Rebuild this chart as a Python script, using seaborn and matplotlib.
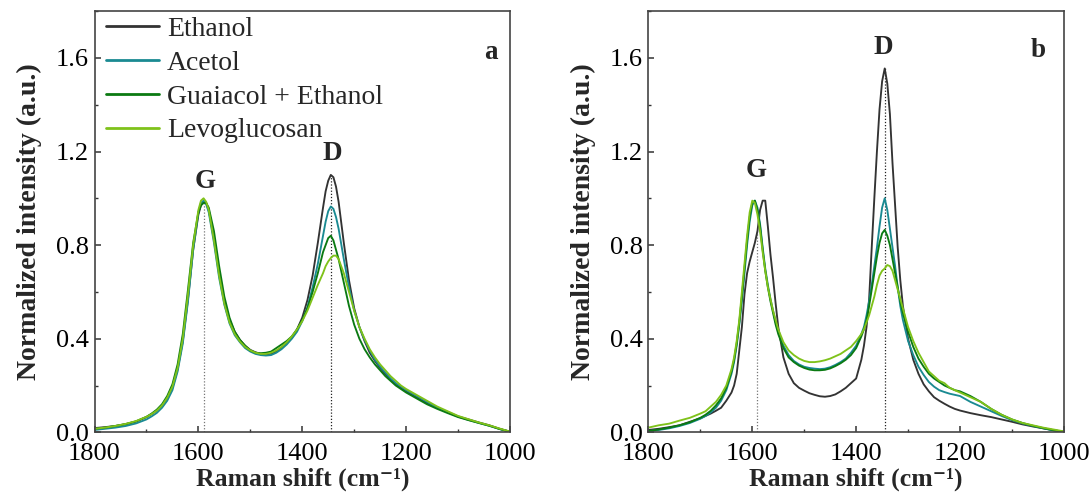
import numpy as np
import pandas as pd
import matplotlib
matplotlib.use("Agg")
import matplotlib.pyplot as plt
from matplotlib.ticker import MultipleLocator
import seaborn as sns

SERIES = ["Ethanol", "Acetol", "Guaiacol + Ethanol", "Levoglucosan"]
COLORS = ["#333333", "#1a8a92", "#0b7a12", "#7fc21a"]

# ---------------- panel a ----------------
XA = [1800, 1780, 1760, 1740, 1720, 1700, 1690, 1680, 1670, 1660, 1650, 1640, 1630, 1620,
      1610, 1600, 1595, 1590, 1585, 1580, 1570, 1560, 1550, 1540, 1530, 1520, 1510, 1500,
      1490, 1480, 1470, 1460, 1450, 1440, 1430, 1420, 1410, 1400, 1390, 1380, 1370, 1360,
      1355, 1350, 1345, 1340, 1335, 1330, 1320, 1310, 1300, 1290, 1280, 1270, 1260, 1250,
      1240, 1230, 1220, 1210, 1200, 1180, 1160, 1140, 1120, 1100, 1080, 1060, 1040, 1020, 1000]

A_ETHANOL = [0.018, 0.022, 0.027, 0.035, 0.046, 0.065, 0.078, 0.093, 0.115, 0.145, 0.19, 0.27, 0.39, 0.57,
             0.78, 0.93, 0.97, 0.985, 0.98, 0.95, 0.83, 0.68, 0.56, 0.48, 0.43, 0.395, 0.37, 0.352,
             0.342, 0.335, 0.333, 0.336, 0.345, 0.36, 0.38, 0.405, 0.44, 0.49, 0.565, 0.67, 0.81, 0.96,
             1.03, 1.075, 1.10, 1.09, 1.05, 0.985, 0.81, 0.65, 0.53, 0.45, 0.39, 0.34, 0.305, 0.275,
             0.25, 0.225, 0.205, 0.19, 0.175, 0.15, 0.125, 0.105, 0.087, 0.068, 0.055, 0.042, 0.03, 0.015, 0.003]
A_ACETOL = [0.01, 0.015, 0.02, 0.027, 0.038, 0.055, 0.068, 0.083, 0.105, 0.135, 0.18, 0.26, 0.38, 0.56,
            0.78, 0.94, 0.98, 0.99, 0.975, 0.94, 0.81, 0.66, 0.545, 0.465, 0.415, 0.385, 0.36, 0.345,
            0.335, 0.33, 0.328, 0.33, 0.34, 0.355, 0.375, 0.40, 0.43, 0.475, 0.535, 0.62, 0.72, 0.84,
            0.90, 0.945, 0.965, 0.955, 0.92, 0.87, 0.74, 0.62, 0.52, 0.45, 0.395, 0.35, 0.31, 0.28,
            0.255, 0.23, 0.21, 0.195, 0.18, 0.155, 0.13, 0.105, 0.085, 0.067, 0.053, 0.04, 0.028, 0.014, 0.002]
A_GUAIACOL = [0.015, 0.02, 0.027, 0.035, 0.047, 0.066, 0.08, 0.097, 0.12, 0.155, 0.205, 0.29, 0.42, 0.61,
              0.81, 0.94, 0.97, 0.98, 0.98, 0.96, 0.86, 0.71, 0.58, 0.49, 0.43, 0.395, 0.37, 0.35,
              0.34, 0.338, 0.34, 0.345, 0.36, 0.375, 0.39, 0.41, 0.44, 0.48, 0.53, 0.60, 0.68, 0.77,
              0.80, 0.83, 0.84, 0.82, 0.78, 0.74, 0.64, 0.54, 0.46, 0.40, 0.355, 0.32, 0.29, 0.265,
              0.24, 0.22, 0.20, 0.185, 0.17, 0.145, 0.12, 0.10, 0.082, 0.065, 0.052, 0.04, 0.028, 0.014, 0.002]
A_LEVO = [0.015, 0.02, 0.027, 0.036, 0.048, 0.066, 0.078, 0.093, 0.115, 0.148, 0.195, 0.275, 0.40, 0.59,
          0.80, 0.95, 0.99, 1.0, 0.985, 0.95, 0.82, 0.67, 0.55, 0.47, 0.42, 0.388, 0.365, 0.35,
          0.34, 0.335, 0.335, 0.34, 0.35, 0.365, 0.385, 0.41, 0.44, 0.475, 0.52, 0.575, 0.63, 0.68,
          0.71, 0.73, 0.745, 0.755, 0.755, 0.74, 0.68, 0.60, 0.52, 0.45, 0.40, 0.355, 0.32, 0.29,
          0.265, 0.24, 0.22, 0.20, 0.185, 0.16, 0.135, 0.11, 0.09, 0.07, 0.056, 0.042, 0.03, 0.016, 0.003]

# ---------------- panel b ----------------
XB = [1800, 1780, 1760, 1740, 1720, 1700, 1690, 1680, 1670, 1660, 1650, 1640, 1635, 1630, 1625, 1620,
      1615, 1610, 1605, 1600, 1595, 1590, 1585, 1580, 1575, 1570, 1565, 1560, 1555, 1550, 1540, 1530,
      1520, 1510, 1500, 1490, 1480, 1470, 1460, 1450, 1440, 1430, 1420, 1410, 1400, 1390, 1385, 1380,
      1375, 1370, 1365, 1360, 1355, 1350, 1345, 1340, 1335, 1330, 1325, 1320, 1315, 1310, 1300, 1290,
      1280, 1270, 1260, 1250, 1240, 1230, 1220, 1210, 1200, 1180, 1160, 1140, 1120, 1100, 1080, 1060,
      1040, 1020, 1000]

B_ETHANOL = [0.01, 0.015, 0.022, 0.03, 0.045, 0.06, 0.07, 0.08, 0.092, 0.105, 0.135, 0.17, 0.20, 0.25, 0.35, 0.45,
             0.59, 0.68, 0.73, 0.77, 0.81, 0.86, 0.95, 0.99, 0.99, 0.88, 0.76, 0.66, 0.55, 0.45, 0.32, 0.25,
             0.21, 0.19, 0.178, 0.167, 0.16, 0.154, 0.152, 0.155, 0.162, 0.175, 0.19, 0.21, 0.23, 0.31, 0.37, 0.45,
             0.57, 0.79, 1.0, 1.2, 1.38, 1.50, 1.555, 1.49, 1.36, 1.15, 0.97, 0.79, 0.65, 0.54, 0.40, 0.31,
             0.25, 0.205, 0.175, 0.15, 0.135, 0.122, 0.11, 0.10, 0.093, 0.082, 0.073, 0.065, 0.055, 0.045, 0.034, 0.025,
             0.017, 0.009, 0.002]
B_ACETOL = [0.005, 0.01, 0.017, 0.027, 0.04, 0.058, 0.07, 0.085, 0.105, 0.135, 0.18, 0.25, 0.30, 0.37, 0.46, 0.56,
            0.68, 0.80, 0.90, 0.97, 0.99, 0.96, 0.89, 0.79, 0.70, 0.63, 0.57, 0.52, 0.47, 0.43, 0.37, 0.33,
            0.305, 0.29, 0.28, 0.275, 0.272, 0.27, 0.272, 0.278, 0.288, 0.30, 0.315, 0.34, 0.37, 0.42, 0.45, 0.50,
            0.56, 0.63, 0.71, 0.79, 0.88, 0.96, 1.0, 0.95, 0.87, 0.79, 0.71, 0.62, 0.54, 0.48, 0.39, 0.33,
            0.28, 0.245, 0.215, 0.195, 0.18, 0.172, 0.165, 0.16, 0.155, 0.13, 0.11, 0.09, 0.07, 0.052, 0.038, 0.027,
            0.017, 0.008, 0.002]
B_GUAIACOL = [0.005, 0.012, 0.02, 0.03, 0.043, 0.062, 0.075, 0.092, 0.115, 0.145, 0.19, 0.26, 0.31, 0.38, 0.47, 0.58,
              0.70, 0.82, 0.92, 0.98, 0.99, 0.95, 0.88, 0.78, 0.69, 0.62, 0.56, 0.51, 0.46, 0.42, 0.36, 0.32,
              0.30, 0.285, 0.275, 0.268, 0.265, 0.265, 0.267, 0.273, 0.283, 0.295, 0.31, 0.33, 0.36, 0.41, 0.44, 0.48,
              0.54, 0.61, 0.68, 0.75, 0.81, 0.85, 0.865, 0.84, 0.80, 0.74, 0.68, 0.62, 0.56, 0.51, 0.43, 0.365,
              0.315, 0.28, 0.25, 0.23, 0.215, 0.20, 0.19, 0.18, 0.175, 0.155, 0.13, 0.10, 0.075, 0.055, 0.04, 0.028,
              0.018, 0.009, 0.002]
B_LEVO = [0.02, 0.03, 0.037, 0.05, 0.062, 0.08, 0.09, 0.11, 0.13, 0.16, 0.20, 0.27, 0.32, 0.39, 0.48, 0.60,
          0.72, 0.84, 0.94, 0.99, 0.98, 0.93, 0.86, 0.77, 0.69, 0.62, 0.57, 0.52, 0.48, 0.44, 0.385, 0.35,
          0.33, 0.315, 0.305, 0.30, 0.30, 0.303, 0.308, 0.315, 0.325, 0.335, 0.35, 0.365, 0.39, 0.42, 0.44, 0.47,
          0.50, 0.54, 0.58, 0.63, 0.67, 0.69, 0.70, 0.715, 0.71, 0.69, 0.65, 0.61, 0.57, 0.53, 0.45, 0.39,
          0.34, 0.30, 0.26, 0.24, 0.22, 0.21, 0.19, 0.18, 0.17, 0.15, 0.13, 0.10, 0.075, 0.055, 0.04, 0.03,
          0.02, 0.012, 0.004]

PEAKS = [1590, 1345]           # dotted guide positions (G, D)
PEAK_LABELS = ["G", "D"]
PANEL_LABELS = ["a", "b"]
XTICKS = [1800, 1600, 1400, 1200, 1000]
YTICKS = [0.0, 0.4, 0.8, 1.2, 1.6]

sns.set_theme(style="ticks")
plt.rcParams["font.family"] = ["Liberation Serif", "DejaVu Serif"]

fig = plt.figure(figsize=(10.9, 4.93), dpi=100)
axA = fig.add_axes([94.5 / 1090, (493 - 432.3) / 493, 415.5 / 1090, 421.2 / 493])
axB = fig.add_axes([648.4 / 1090, (493 - 432.3) / 493, 415.5 / 1090, 421.2 / 493])


def long_frame(x, ys):
    frames = []
    for name, y in zip(SERIES, ys):
        frames.append(pd.DataFrame({"shift": x, "intensity": y, "sample": name}))
    return pd.concat(frames, ignore_index=True)


dfA = long_frame(XA, [A_ETHANOL, A_ACETOL, A_GUAIACOL, A_LEVO])
dfB = long_frame(XB, [B_ETHANOL, B_ACETOL, B_GUAIACOL, B_LEVO])
pal = dict(zip(SERIES, COLORS))

# label positions (data coords) for peak letters and panel letters
G_POS = {"a": (1587, 1.07), "b": (1593, 1.12)}
D_POS = {"a": (1343, 1.19), "b": (1347, 1.645)}
P_POS = {"a": (1036, 1.625), "b": (1049, 1.63)}
GUIDE_SRC = {"a": (XA, A_ETHANOL, A_ETHANOL), "b": (XB, B_ETHANOL, B_ETHANOL)}
GUIDE_COL = ["#777777", "#222222"]

for ax, df, tag in [(axA, dfA, "a"), (axB, dfB, "b")]:
    sns.lineplot(data=df, x="shift", y="intensity", hue="sample", palette=pal,
                 hue_order=SERIES, estimator=None, sort=False, linewidth=1.35, ax=ax,
                 legend=(tag == "a"))
    xs, yg, yd = GUIDE_SRC[tag]
    xs_r = np.array(xs)[::-1]
    tops = [np.interp(PEAKS[0], xs_r, np.array(yg)[::-1]),
            np.interp(PEAKS[1], xs_r, np.array(yd)[::-1])]
    ls = (0, (1, 1.5))
    for px, top, col in zip(PEAKS, tops, GUIDE_COL):
        ax.vlines(px, 0, top, colors=col, linestyles=ls, linewidth=0.9, zorder=1)
    ax.set_xlim(XTICKS[0], XTICKS[-1])
    ax.set_ylim(0, 1.8)
    ax.set_xticks(XTICKS)
    ax.set_yticks(YTICKS)
    ax.xaxis.set_minor_locator(MultipleLocator(100))
    ax.yaxis.set_minor_locator(MultipleLocator(0.2))
    ax.set_xticklabels([str(t) for t in XTICKS])
    ax.set_yticklabels([f"{t:.1f}" for t in YTICKS])
    ax.tick_params(which="major", direction="in", length=4.6, width=1.1, labelsize=19,
                   colors="#333333", labelcolor="black")
    ax.tick_params(axis="x", which="major", pad=8)
    ax.tick_params(axis="y", which="major", pad=4)
    ax.tick_params(which="minor", direction="in", length=2.5, width=1.0, colors="#333333")
    for sp in ax.spines.values():
        sp.set_visible(True)
        sp.set_linewidth(1.2)
        sp.set_color("#444444")
    ax.set_xlabel("Raman shift (cm\u207b\u00b9)", fontsize=18.5, fontweight="bold", labelpad=1.5)
    ax.set_ylabel("Normalized intensity (a.u.)", fontsize=20, fontweight="bold", labelpad=10)
    ax.text(*G_POS[tag], PEAK_LABELS[0], fontsize=19.5, fontweight="bold", ha="center", va="center")
    ax.text(*D_POS[tag], PEAK_LABELS[1], fontsize=19.5, fontweight="bold", ha="center", va="center")
    ax.text(*P_POS[tag], PANEL_LABELS[0] if tag == "a" else PANEL_LABELS[1],
            fontsize=19.5, fontweight="bold", ha="center", va="center")

leg = axA.legend(loc="upper left", bbox_to_anchor=(0.024, 0.99), frameon=False, fontsize=20,
                 handlelength=1.9, handletextpad=0.3, labelspacing=0.3, borderaxespad=0.0,
                 borderpad=0.05)
for h in leg.get_lines():
    h.set_linewidth(2.0)

fig.savefig("out.png", dpi=100)
